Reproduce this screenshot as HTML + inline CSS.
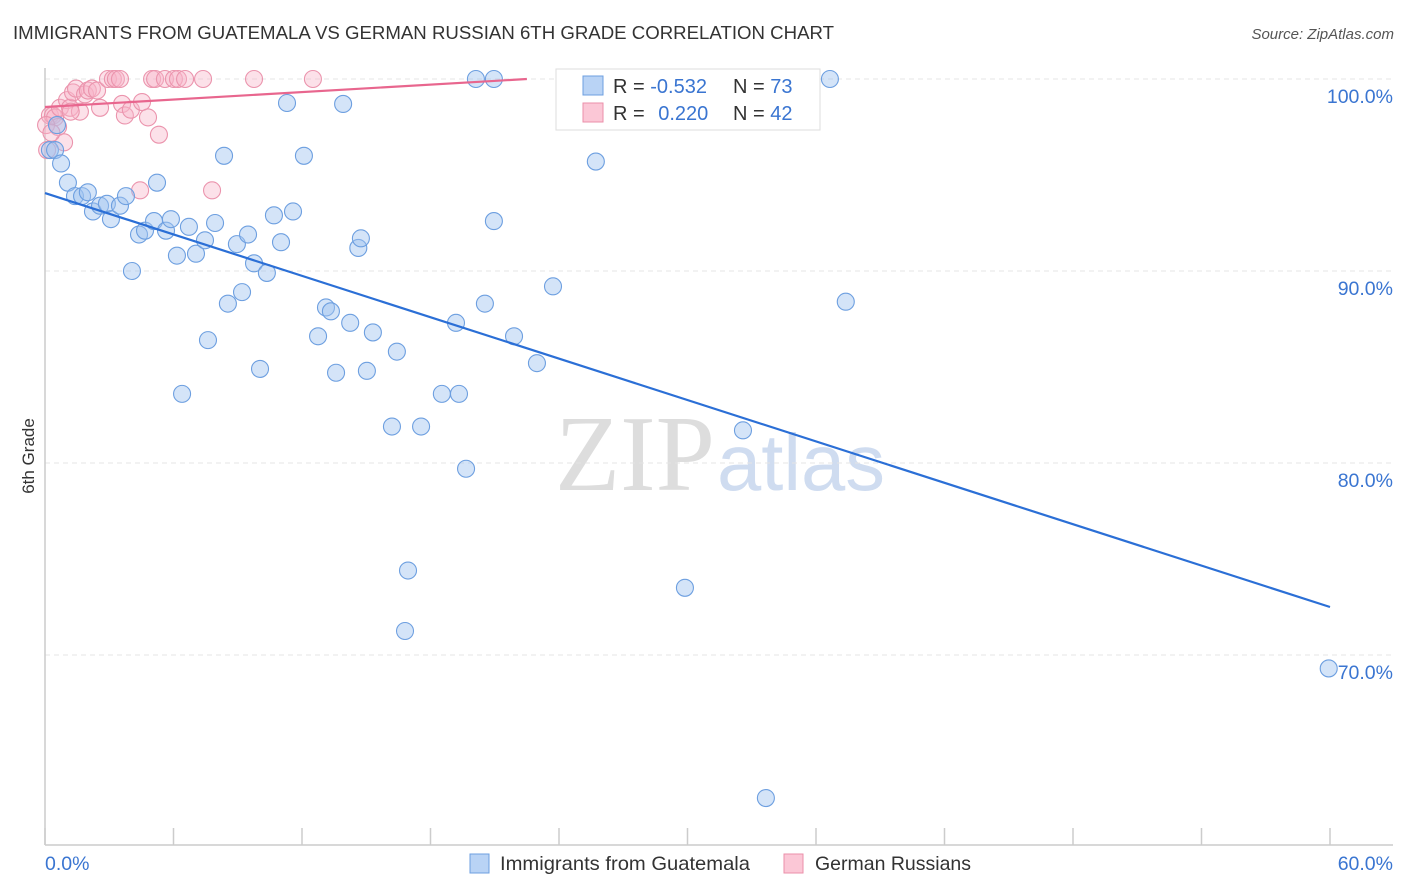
<!DOCTYPE html>
<html><head><meta charset="utf-8"><style>
body{margin:0;background:#fff;font-family:"Liberation Sans",sans-serif;}
svg{display:block}
</style></head><body>
<svg id="chart" width="1406" height="892" xmlns="http://www.w3.org/2000/svg">
<text x="13" y="39" font-size="18" fill="#333" textLength="821" lengthAdjust="spacingAndGlyphs">IMMIGRANTS FROM GUATEMALA VS GERMAN RUSSIAN 6TH GRADE CORRELATION CHART</text>
<text x="1394" y="39" font-size="15" font-style="italic" fill="#555" text-anchor="end">Source: ZipAtlas.com</text>
<g>
<text x="555" y="490" font-size="108" font-family="Liberation Serif,serif" fill="#ddd" textLength="160" lengthAdjust="spacingAndGlyphs">ZIP</text>
<text x="717" y="490" font-size="80" fill="#cfdcf0" textLength="168" lengthAdjust="spacingAndGlyphs">atlas</text>
</g>
<g id="grid"></g>
<line x1="45" y1="68" x2="45" y2="845" stroke="#ccc" stroke-width="1.5"/>
<line x1="45" y1="845" x2="1393" y2="845" stroke="#ccc" stroke-width="1.5"/>
<g id="xticks"></g>
<text transform="translate(34,456) rotate(-90)" font-size="17" fill="#333" text-anchor="middle">6th Grade</text>
<text x="45" y="870" font-size="19.5" fill="#3a75d1">0.0%</text>
<text x="1393" y="870" font-size="19.5" fill="#3a75d1" text-anchor="end">60.0%</text>
<g id="pts"></g>
<g id="lines"></g>
<g>
<rect x="556" y="69" width="264" height="61" fill="#fff" stroke="#ddd"/>
<rect x="583" y="76" width="20" height="19" fill="#b9d3f5" stroke="#6d9fe0"/>
<rect x="583" y="103" width="20" height="19" fill="#fbc7d6" stroke="#eb8fa9"/>
<text x="613" y="93" font-size="20" fill="#333">R = <tspan fill="#3a75d1">-0.532</tspan></text>
<text x="733" y="93" font-size="20" fill="#333">N = <tspan fill="#3a75d1">73</tspan></text>
<text x="613" y="120" font-size="20" fill="#333">R = <tspan fill="#3a75d1" dx="8">0.220</tspan></text>
<text x="733" y="120" font-size="20" fill="#333">N = <tspan fill="#3a75d1">42</tspan></text>
</g>
<g>
<rect x="470" y="854" width="19" height="19" fill="#b9d3f5" stroke="#6d9fe0"/>
<text x="500" y="870" font-size="19.5" fill="#333" textLength="250" lengthAdjust="spacingAndGlyphs">Immigrants from Guatemala</text>
<rect x="784" y="854" width="19" height="19" fill="#fbc7d6" stroke="#eb8fa9"/>
<text x="815" y="870" font-size="19.5" fill="#333" textLength="156" lengthAdjust="spacingAndGlyphs">German Russians</text>
</g>
</svg>
<script>
const yTicks=[100,90,80,70];
const yTickLabels=["100.0%","90.0%","80.0%","70.0%"];
const xTicks=[0,6,12,18,24,30,36,42,48,54,60];
const blueX=[0.23,0.47,0.56,0.75,1.07,1.4,1.73,2.0,2.24,2.57,2.89,3.08,3.5,3.78,4.06,4.39,4.67,5.09,5.23,5.65,5.88,6.16,6.4,6.72,7.05,7.47,7.61,7.94,8.36,8.54,8.96,9.2,9.48,9.76,10.04,10.36,10.69,11.02,11.3,11.58,12.09,12.75,13.12,13.35,13.59,13.92,14.25,14.63,14.75,15.03,15.31,16.2,16.43,16.81,16.95,17.56,18.53,19.19,19.33,19.66,20.12,20.54,20.96,20.96,21.9,22.97,23.72,25.72,29.88,32.59,33.66,36.65,37.39,59.94];
const blueY=[96.3,96.3,97.6,95.6,94.6,93.9,93.9,94.1,93.1,93.4,93.5,92.7,93.4,93.9,90.0,91.9,92.1,92.6,94.6,92.1,92.7,90.8,83.6,92.3,90.9,91.6,86.4,92.5,96.0,88.3,91.4,88.9,91.9,90.4,84.9,89.9,92.9,91.5,98.75,93.1,96.0,86.6,88.1,87.9,84.7,98.7,87.3,91.2,91.7,84.8,86.8,81.9,85.8,71.25,74.4,81.9,83.6,87.3,83.6,79.7,100,88.3,100,92.6,86.6,85.2,89.2,95.7,73.5,81.7,62.55,100,88.4,69.3];
const pinkX=[0.23,0.37,0.1,0.47,0.61,0.7,0.89,1.03,1.17,1.31,1.45,1.63,1.87,2.0,2.19,2.43,2.57,2.94,3.17,3.31,3.5,3.6,3.73,4.01,4.44,4.53,4.81,5.0,5.14,5.32,5.6,6.02,6.21,6.54,7.38,7.8,9.76,12.51,27.82,0.05,0.3,1.2];
const pinkY=[98.1,98.1,96.3,98.0,97.5,98.5,96.7,98.9,98.5,99.3,99.5,98.3,99.2,99.4,99.5,99.4,98.5,100,100,100,100,98.7,98.1,98.4,94.2,98.8,98.0,100,100,97.1,100,100,100,100,100,94.2,100,100,100,97.6,97.2,98.3];
const blueTrendX=[0,60], blueTrendY=[94.06,72.5];
const pinkTrendX=[0,22.5], pinkTrendY=[98.54,100];

const NS="http://www.w3.org/2000/svg";
const sx=v=>45+v*(1285/60);
const sy=v=>79+(100-v)*19.2;
function mk(tag,attrs,parent){const e=document.createElementNS(NS,tag);for(const k in attrs)e.setAttribute(k,attrs[k]);parent.appendChild(e);return e;}
const grid=document.getElementById('grid');
yTicks.forEach((t,i)=>{
  const l=mk('line',{x1:45,x2:1393,y1:sy(t),y2:sy(t),stroke:'#e4e4e4','stroke-dasharray':'5,4'},grid);
  
  
  const tx=mk('text',{x:1393,y:sy(t)+24,'font-size':19.5,fill:'#3a75d1','text-anchor':'end'},grid);
  tx.textContent=yTickLabels[i];
  
  
});
const xt=document.getElementById('xticks');
xTicks.forEach(t=>{
  const l=mk('line',{x1:sx(t),x2:sx(t),y1:828,y2:845,stroke:'#ccc','stroke-width':1.5},xt);
  
  
});
const pts=document.getElementById('pts');
pinkX.forEach((x,i)=>{
  const c=mk('circle',{cx:sx(x),cy:sy(pinkY[i]),r:8.5,fill:'rgba(248,180,200,0.4)',stroke:'#eb94ad','stroke-width':1.1},pts);
  
  
});
blueX.forEach((x,i)=>{
  const c=mk('circle',{cx:sx(x),cy:sy(blueY[i]),r:8.5,fill:'rgba(160,196,240,0.45)',stroke:'#6d9fe0','stroke-width':1.1},pts);
  
  
});
const lines=document.getElementById('lines');
const bl=mk('line',{x1:sx(blueTrendX[0]),y1:sy(blueTrendY[0]),x2:sx(blueTrendX[1]),y2:sy(blueTrendY[1]),stroke:'#2b6fd6','stroke-width':2.2},lines);


const pl=mk('line',{x1:sx(pinkTrendX[0]),y1:sy(pinkTrendY[0]),x2:sx(pinkTrendX[1]),y2:sy(pinkTrendY[1]),stroke:'#e8668e','stroke-width':2.2},lines);


</script>
</body></html>
